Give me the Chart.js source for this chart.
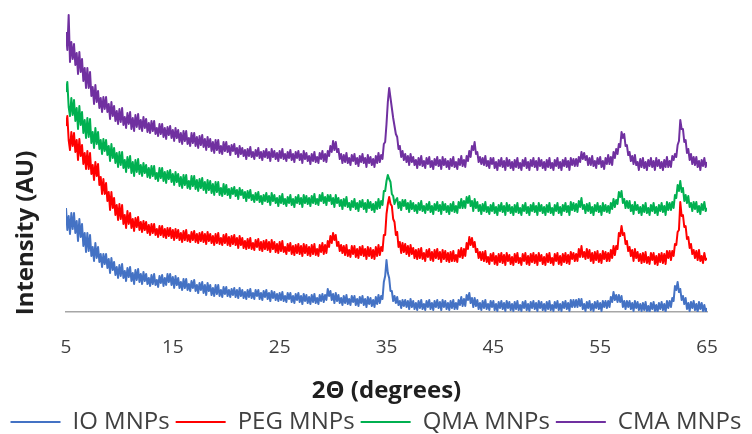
<!DOCTYPE html>
<html>
<head>
<meta charset="utf-8">
<title>XRD MNPs</title>
<script src="https://cdn.jsdelivr.net/npm/chart.js@4.4.1/dist/chart.umd.min.js"></script>
<style>
  html, body { margin: 0; padding: 0; background: #fff; }
  #wrap { width: 752px; height: 434px; position: relative; }
</style>
</head>
<body>
<div id="wrap"><canvas id="xrdChart" width="752" height="434"></canvas></div>
<script>
'use strict';

// ===== SCAN GRID (2θ, degrees) =====
const twoThetaStart = 5;
const twoThetaStep = 0.125;
const xTicks = [5, 15, 25, 35, 45, 55, 65];

// ===== INTENSITY (AU), 8 readings per degree from 5° to 65° =====
const ioMnps = [
  104,82,96,78,99,83,99,79,  91,71,93,75,88,66,79,60,  79,61,77,56,65,51,69,54,  65,50,58,45,58,48,58,44,
  53,39,54,42,50,37,45,34,  47,36,48,34,41,31,44,35,  45,31,39,28,42,32,43,30,  38,28,40,31,38,28,34,26,
  37,28,38,27,32,25,36,29,  37,26,34,27,38,30,38,27,  35,24,36,27,34,24,30,22,  33,24,33,22,28,21,31,24,
  32,21,27,19,29,22,30,19,  27,17,29,21,27,17,24,16,  27,18,27,16,22,15,25,18,  25,16,22,15,23,17,24,15,
  22,14,24,16,22,14,20,13,  22,15,23,14,19,13,22,16,  22,13,19,12,21,15,22,13,  19,11,21,14,20,12,18,11,
  19,12,20,11,16,10,19,13,  19,10,16,9,18,12,19,10,  16,8,18,11,17,9,15,8,  17,10,18,9,14,8,17,11,
  18,10,17,12,23,16,21,12,  18,9,19,11,17,9,14,7,  16,9,17,8,13,7,16,10,  16,7,13,6,15,9,16,7,
  13,5,15,8,14,6,12,5,  15,8,17,9,16,13,30,36,  52,39,34,21,21,11,16,9,  15,7,11,4,12,6,12,5,
  11,3,13,5,11,3,9,2,  11,4,12,3,8,2,11,5,  12,3,9,2,11,5,12,4,  10,2,12,5,11,3,9,2,
  11,4,12,3,9,3,12,7,  15,6,13,6,17,12,19,9,  14,5,14,6,12,3,9,2,  11,4,12,3,8,2,11,5,
  11,2,8,1,10,4,11,3,  9,1,11,4,10,2,8,1,  10,3,11,2,7,1,10,4,  11,2,8,1,10,4,11,3,
  9,1,11,4,10,2,8,1,  10,3,11,2,7,1,10,4,  11,2,8,1,10,4,11,3,  9,1,12,5,12,5,12,5,
  13,6,13,3,8,1,10,4,  11,2,8,1,10,4,11,3,  9,1,11,5,11,4,11,5,  15,10,20,12,17,10,17,10,
  16,5,11,3,11,5,11,3,  9,1,11,4,10,2,8,1,  9,2,10,1,6,0,9,3,  10,1,7,0,9,3,10,2,
  8,0,11,4,11,5,14,11,  26,22,30,20,23,12,16,8,  14,3,9,1,10,4,11,2,  8,0,10,3,9,1,7,0,
  4
];

const pegMnps = [
  186,196,172,162,180,166,179,160,  172,152,173,156,167,148,159,143,  161,143,159,138,147,132,150,136,  148,127,135,118,133,118,129,111,
  120,102,120,104,114,97,107,92,  108,93,107,88,97,84,101,88,  99,84,93,81,94,85,95,82,  90,80,91,82,90,79,87,77,
  88,79,88,77,83,75,86,77,  86,75,83,74,84,76,84,74,  82,72,83,74,82,72,79,70,  81,72,82,71,77,70,80,72,
  81,70,78,69,79,71,80,70,  78,68,80,71,78,69,76,67,  78,69,79,68,74,67,77,69,  78,67,75,66,76,68,77,67,
  74,64,76,67,74,64,71,63,  73,64,74,63,69,62,72,65,  73,62,70,61,71,63,72,62,  70,60,72,63,70,60,68,59,
  70,61,71,60,65,58,68,61,  69,58,66,57,67,59,68,58,  66,56,68,59,67,57,65,56,  67,58,68,57,63,56,67,60,
  69,58,67,59,71,65,76,69,  79,72,77,66,70,61,67,59,  66,57,67,56,62,55,66,58,  66,55,63,54,65,57,66,56,
  63,53,65,56,64,54,62,53,  65,56,67,57,65,61,77,77,  98,108,115,108,106,93,90,77,  80,65,70,59,69,60,68,58,
  66,56,67,58,64,54,62,53,  63,54,64,53,59,51,62,55,  63,52,60,51,62,54,63,53,  60,50,62,53,61,51,59,50,
  60,51,61,51,57,50,62,55,  64,54,63,56,69,63,75,67,  74,65,70,60,63,54,60,52,  60,51,61,50,55,48,58,51,
  59,48,56,47,58,50,59,49,  57,47,59,51,57,48,55,47,  58,50,59,49,54,47,58,51,  59,48,56,47,58,50,59,49,
  57,47,59,51,57,48,55,47,  58,50,59,49,54,47,58,51,  59,48,56,47,58,50,59,49,  57,48,60,53,59,51,58,51,
  63,55,66,55,60,53,63,54,  62,51,59,49,60,52,61,50,  58,49,61,53,60,51,59,51,  62,54,66,57,66,63,79,76,
  86,77,79,68,71,61,65,56,  62,51,63,54,60,51,58,49,  59,50,60,49,55,48,59,52,  59,48,56,47,58,50,59,49,
  58,48,61,54,61,52,61,56,  68,67,80,82,110,96,97,85,  86,73,75,64,68,58,62,54,  61,52,62,51,56,49,59,52,
  54
];

const qmaMnps = [
  220,230,205,196,214,197,212,191,  204,183,206,187,200,179,192,174,  194,175,193,169,180,164,184,168,  180,163,172,158,173,161,172,157,
  166,151,168,154,164,149,159,145,  160,147,160,144,152,140,155,144,  156,139,150,136,152,140,153,138,  147,136,149,139,147,135,144,134,
  146,136,146,133,139,131,144,134,  144,131,140,129,141,133,142,130,  138,127,140,130,138,126,135,124,  137,127,137,124,131,123,136,126,
  136,123,132,121,133,124,134,122,  130,119,132,122,131,119,128,117,  130,120,130,117,124,116,128,118,  127,117,123,114,124,118,125,116,
  122,113,124,117,122,114,120,111,  121,114,122,112,117,110,119,112,  120,110,116,108,117,111,119,110,  116,107,119,111,117,109,114,106,
  116,109,118,108,113,106,115,109,  117,107,113,105,115,109,117,108,  114,105,117,109,116,108,114,106,  116,109,118,108,113,107,117,111,
  119,109,115,107,117,111,117,108,  114,105,117,109,114,106,112,103,  113,106,115,105,109,102,111,105,  113,103,109,101,111,105,112,103,
  109,100,112,104,110,102,108,100,  110,103,113,104,111,107,121,121,  131,137,133,130,118,116,108,112,  114,104,110,102,112,106,112,103,
  109,100,111,103,109,101,107,99,  109,102,111,101,106,99,108,102,  110,100,106,98,108,102,110,101,  107,98,110,102,108,100,106,98,
  108,101,110,100,106,99,110,104,  113,104,111,104,115,109,116,106,  111,101,113,104,110,101,107,98,  108,101,110,100,105,98,107,101,
  109,99,105,97,107,101,109,100,  106,97,109,101,107,99,105,97,  107,100,109,99,104,97,107,101,  109,99,105,97,107,101,109,100,
  106,97,109,101,107,99,105,97,  107,100,109,99,104,97,107,101,  109,99,105,97,107,101,109,100,  106,97,110,102,109,101,108,100,
  111,105,114,103,107,99,108,101,  109,99,105,97,107,101,109,100,  106,97,109,101,107,100,106,99,  109,103,113,105,112,108,120,115,
  121,109,113,104,111,104,111,101,  107,98,110,102,107,99,105,97,  107,100,109,99,104,97,107,101,  109,99,105,97,107,101,109,100,
  106,97,110,102,109,102,110,104,  117,114,127,121,131,120,124,111,  117,109,116,105,109,101,110,103,  110,100,106,98,108,102,110,101,
  104
];

const cmaMnps = [
  280,262,297,250,270,253,268,247,  259,238,260,240,253,231,244,224,  244,224,240,216,225,208,227,210,  221,204,214,200,215,203,215,200,
  208,193,210,196,206,191,201,188,  203,190,204,187,195,184,199,188,  200,183,194,181,197,185,198,183,  192,181,195,184,193,180,189,179,
  191,181,191,178,184,176,188,178,  188,175,184,173,185,177,186,174,  182,171,184,174,182,170,179,168,  181,171,181,168,174,166,179,169,
  179,166,175,164,176,167,177,165,  173,162,175,165,173,161,170,159,  172,162,172,159,166,158,170,161,  170,160,166,157,167,161,168,158,
  164,155,166,158,164,156,162,153,  163,156,165,155,160,153,162,156,  164,154,160,152,161,155,163,154,  160,151,163,155,161,153,159,151,
  161,154,163,153,158,151,160,154,  162,152,158,150,160,154,161,152,  158,149,161,153,159,151,156,148,  158,151,160,150,155,149,159,153,
  161,151,158,150,161,156,166,160,  171,162,170,160,163,153,158,149,  157,150,159,149,154,147,157,151,  158,148,154,146,156,150,158,149,
  154,145,157,149,155,147,153,145,  156,149,159,150,157,153,168,170,  188,210,224,214,204,194,186,178,  175,163,166,155,161,152,158,150,
  156,147,158,150,155,147,152,144,  154,147,156,146,151,144,154,148,  155,145,151,143,153,147,155,146,  152,143,155,147,153,145,151,143,
  153,146,155,145,150,143,153,147,  156,146,152,145,156,151,161,155,  166,162,170,158,160,150,155,148,  154,147,156,146,151,144,154,148,
  154,144,150,142,152,146,154,145,  151,142,154,146,152,144,150,142,  152,145,154,144,149,142,152,146,  154,144,150,142,152,146,154,145,
  151,142,154,146,152,144,150,142,  152,145,154,144,149,142,152,146,  154,144,150,142,152,146,154,145,  151,142,154,147,153,146,153,146,
  155,150,160,153,159,152,156,147,  154,147,156,146,151,144,154,148,  155,145,151,143,154,148,157,148,  155,147,160,154,163,158,168,165,
  180,174,178,166,167,157,160,151,  156,148,157,147,150,142,153,145,  154,144,150,142,152,146,154,145,  151,142,154,146,152,144,150,142,
  152,145,155,145,151,145,156,152,  158,155,167,171,192,183,183,170,  172,159,163,152,158,148,155,147,  155,145,151,142,152,146,154,145,
  150
];

const seriesNames = ['IO MNPs', 'PEG MNPs', 'QMA MNPs', 'CMA MNPs'];
const seriesColors = ['#4472C4', '#FF0000', '#00B050', '#7030A0'];

function toPoints(values) {
  return values.map((v, i) => ({ x: twoThetaStart + i * twoThetaStep, y: v }));
}

// ===== Y TITLE (sits lower than the plot centre, as in the source) =====
const yTitlePlugin = {
  id: 'yTitle',
  afterDraw(chart) {
    const ctx = chart.ctx;
    ctx.save();
    ctx.translate(26, 233);
    ctx.rotate(-Math.PI / 2);
    ctx.font = 'bold 24px "Open Sans"';
    ctx.fillStyle = '#1f1f1f';
    ctx.textAlign = 'center';
    ctx.textBaseline = 'middle';
    ctx.fillText('Intensity (AU)', 0, 0);
    ctx.restore();
  }
};

const allSeries = [ioMnps, pegMnps, qmaMnps, cmaMnps];
const hiddenAxis = {
  display: true,
  grid: { display: false, drawTicks: false },
  border: { display: false },
  ticks: { display: false }
};

new Chart(document.getElementById('xrdChart'), {
  type: 'line',
  data: {
    datasets: allSeries.map((vals, k) => ({
      label: seriesNames[k],
      data: toPoints(vals),
      borderColor: seriesColors[k],
      backgroundColor: seriesColors[k],
      borderWidth: 2,
      borderJoinStyle: 'round',
      pointRadius: 0,
      tension: 0,
      fill: false
    }))
  },
  options: {
    responsive: false,
    animation: false,
    layout: { padding: { top: 12, left: 0, right: 0, bottom: -10 } },
    plugins: {
      tooltip: { enabled: false },
      legend: {
        position: 'bottom',
        labels: {
          usePointStyle: true,
          pointStyle: 'line',
          pointStyleWidth: 50,
          padding: 6,
          color: '#404040',
          font: { family: '"Open Sans"', size: 24 }
        }
      }
    },
    scales: {
      x: {
        type: 'linear',
        min: 5, max: 65,
        afterBuildTicks(scale) { scale.ticks = xTicks.map(v => ({ value: v })); },
        afterFit(scale) { scale.height = 92; },
        grid: { display: false, drawTicks: false },
        border: { display: true, color: '#A6A6A6', width: 1.5 },
        ticks: { color: '#404040', padding: 24, font: { family: '"Open Sans"', size: 19 } },
        title: {
          display: true, text: '2Θ (degrees)', color: '#1f1f1f',
          font: { family: '"Open Sans"', size: 24, weight: 'bold' },
          padding: { top: 0, bottom: -2 }
        }
      },
      y: Object.assign({ position: 'left', min: 0, max: 300, afterFit(s) { s.width = 66; } }, hiddenAxis),
      yRight: Object.assign({ position: 'right', min: 0, max: 300, afterFit(s) { s.width = 45; } }, hiddenAxis)
    }
  },
  plugins: [yTitlePlugin]
});
</script>
</body>
</html>
